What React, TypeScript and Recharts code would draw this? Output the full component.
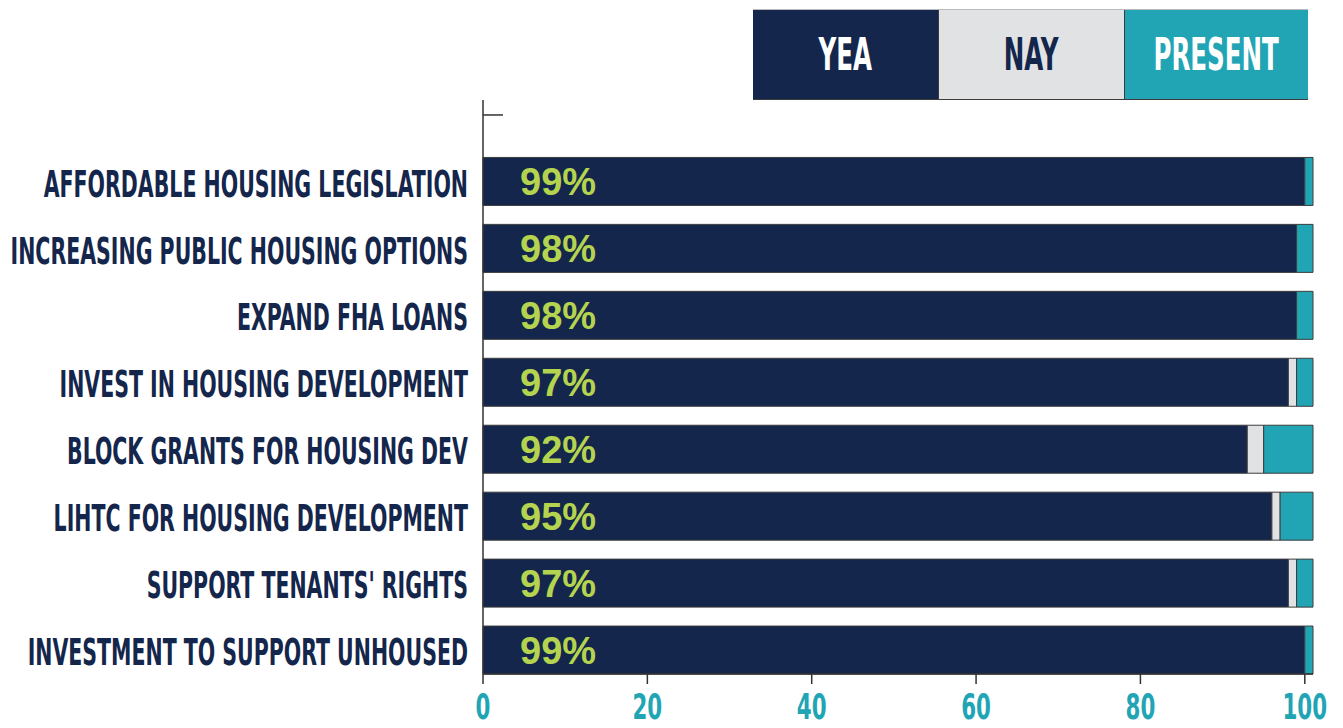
import { BarChart, Bar, XAxis, YAxis, Legend, LabelList } from "recharts";

// first row is an empty spacer category (only its tick shows at the top)
const categories = [
  "",
  "AFFORDABLE HOUSING LEGISLATION",
  "INCREASING PUBLIC HOUSING OPTIONS",
  "EXPAND FHA LOANS",
  "INVEST IN HOUSING DEVELOPMENT",
  "BLOCK GRANTS FOR HOUSING DEV",
  "LIHTC FOR HOUSING DEVELOPMENT",
  "SUPPORT TENANTS' RIGHTS",
  "INVESTMENT TO SUPPORT UNHOUSED",
];
const yea = [null, 100, 99, 99, 98, 93, 96, 98, 100];
const nay = [null, 0, 0, 0, 1, 2, 1, 1, 0];
const present = [null, 1, 2, 2, 2, 6, 4, 2, 1];
const yeaLabels = ["", "99%", "98%", "98%", "97%", "92%", "95%", "97%", "99%"];
const xTicks = [0, 20, 40, 60, 80, 100];
const legendOrder = ["YEA", "NAY", "PRESENT"];

const data = categories.map((name, i) => ({
  name,
  yea: yea[i],
  nay: nay[i],
  present: present[i],
  label: yeaLabels[i],
}));

const NAVY = "#14264b";
const GRAY = "#e1e2e4";
const TEAL = "#21a5b5";
const GREEN = "#b4d44f";
const EDGE = "#3c3c3c";
const AXIS = "#333333";
const CONDENSED = '"DejaVu Sans Condensed", "Liberation Sans Narrow", sans-serif';

function CategoryTick(props: any) {
  const { x, y, payload } = props;
  if (!payload.value) {
    return <line x1={x + 15} x2={x + 35} y1={y} y2={y} stroke={AXIS} strokeWidth={1.5} />;
  }
  return (
    <g transform={`translate(${x},${y + 1}) scale(0.6,1)`}>
      <text
        textAnchor="end"
        dy="0.36em"
        fill={NAVY}
        fontFamily={CONDENSED}
        fontWeight={700}
        fontSize={38}
      >
        {payload.value}
      </text>
    </g>
  );
}

function ValueTick(props: any) {
  const { x, y, payload } = props;
  return (
    <g transform={`translate(${x},${y}) scale(0.66,1)`}>
      <text
        textAnchor="middle"
        dy={31}
        fill={TEAL}
        fontFamily={CONDENSED}
        fontWeight={700}
        fontSize={36}
      >
        {payload.value}
      </text>
    </g>
  );
}

function LegendBoxes(props: any) {
  const items = [...(props.payload || [])].sort(
    (a: any, b: any) => legendOrder.indexOf(a.value) - legendOrder.indexOf(b.value)
  );
  return (
    <div style={{ display: "flex", borderTop: "1px solid #bbb", borderBottom: `1px solid ${EDGE}` }}>
      {items.map((item: any, i: number) => (
        <div
          key={item.value}
          style={{
            width: i === 2 ? 183 : 185,
            height: 89,
            background: item.color,
            borderLeft: i > 0 ? `1px solid ${EDGE}` : "none",
            display: "flex",
            alignItems: "center",
            justifyContent: "center",
          }}
        >
          <span
            style={{
              display: "inline-block",
              transform: "scale(0.62,1)",
              fontFamily: CONDENSED,
              fontWeight: 700,
              fontSize: 44,
              color: item.value === "NAY" ? NAVY : "#ffffff",
              lineHeight: 1,
            }}
          >
            {item.value}
          </span>
        </div>
      ))}
    </div>
  );
}

export default function App() {
  return (
    <div style={{ position: "absolute", left: 0, top: 0, width: 1343, height: 728, background: "#fff" }}>
      <BarChart
        width={1343}
        height={728}
        data={data}
        layout="vertical"
        margin={{ top: 100, right: 30, bottom: 0, left: 0 }}
      >
        <XAxis
          type="number"
          domain={[0, 101]}
          ticks={xTicks}
          interval={0}
          axisLine={{ stroke: AXIS, strokeWidth: 1.5 }}
          tickLine={{ stroke: AXIS, strokeWidth: 1.5 }}
          tickSize={10}
          tickMargin={4}
          height={54}
          tick={<ValueTick />}
        />
        <YAxis
          type="category"
          dataKey="name"
          width={483}
          interval={0}
          tickLine={false}
          tickSize={0}
          tickMargin={15}
          axisLine={{ stroke: AXIS, strokeWidth: 1.5 }}
          padding={{ top: -18.5, bottom: -10 }}
          tick={<CategoryTick />}
        />
        <Legend
          layout="vertical"
          align="center"
          verticalAlign="middle"
          itemSorter={null}
          wrapperStyle={{ top: 9, left: 753, width: 555, height: 92 }}
          content={<LegendBoxes />}
        />
        <Bar dataKey="yea" name="YEA" stackId="v" fill={NAVY} stroke={EDGE} strokeWidth={1} barSize={48} isAnimationActive={false}>
          <LabelList
            dataKey="label"
            position="insideLeft"
            offset={37}
            fill={GREEN}
            style={{ fontFamily: '"Liberation Sans", Arial, sans-serif', fontWeight: 700, fontSize: 38, fill: GREEN }}
          />
        </Bar>
        <Bar dataKey="nay" name="NAY" stackId="v" fill={GRAY} stroke={EDGE} strokeWidth={1} barSize={48} isAnimationActive={false} />
        <Bar dataKey="present" name="PRESENT" stackId="v" fill={TEAL} stroke={EDGE} strokeWidth={1} barSize={48} isAnimationActive={false} />
      </BarChart>
    </div>
  );
}
